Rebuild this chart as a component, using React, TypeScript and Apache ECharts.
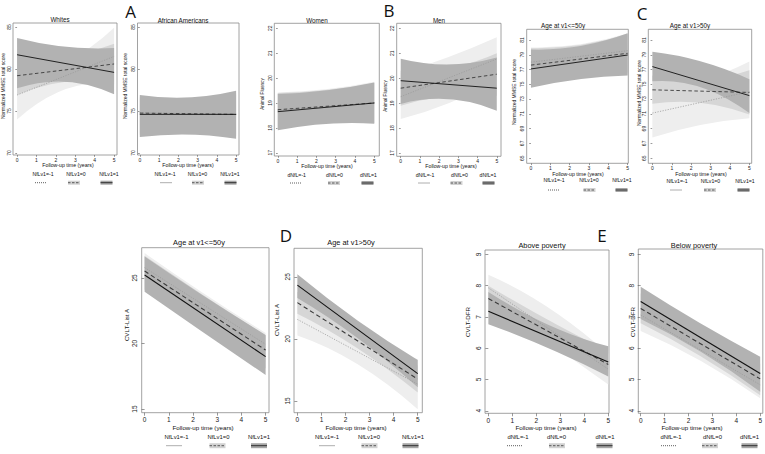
import React, { useEffect, useRef } from "react";
import * as echarts from "echarts";

// ---------- data ----------
const xTicks = [0, 1, 2, 3, 4, 5];
const lineX = [0, 5];
const bandX = [0, 2.5, 5];

const titles = ["Whites", "African Americans", "Women", "Men", "Age at v1<=50y", "Age at v1>50y", "Age at v1<=50y", "Age at v1>50y", "Above poverty", "Below poverty"];
const yTitles = ["Normalized MMSE total score", "Normalized MMSE total score", "Animal Fluency", "Animal Fluency", "Normalized MMSE total score", "Normalized MMSE total score", "CVLT-List A", "CVLT-List A", "CVLT-DFR", "CVLT-DFR"];
const xTitle = "Follow-up time (years)";
const legendNfl = ["NfLv1=-1", "NfLv1=0", "NfLv1=1"];
const legendDnfl = ["dNfL=-1", "dNfL=0", "dNfL=1"];
const panelLetters = ["A", "B", "C", "D", "E"];

const mmseTicks = [70, 75, 80, 85];
const fluencyTicks = [17, 18, 19, 20, 21, 22];
const ageMmseTicks = [65, 67, 69, 71, 73, 75, 77, 79, 81];
const cvltATicks = [15, 20, 25];
const dfrTicks = [4, 5, 6, 7, 8, 9];

// order in each: [NfL=1 (solid), NfL=0 (dashed), NfL=-1 (dotted)]
const whitesLines = [[81.7, 79.6], [79.2, 80.6], [76.9, 81.5]];
const whitesLower = [[77.7, 78.5, 77.0], [76.9, 78.5, 78.2], [74.0, 77.6, 78.1]];
const whitesUpper = [[83.7, 82.65, 82.5], [81.5, 81.5, 83.0], [79.8, 80.9, 84.9]];

const afamLines = [[74.6, 74.6], [74.75, 74.6], [74.8, 74.6]];
const afamLower = [[71.9, 72.2, 71.7], [72.1, 72.4, 72.0], [72.3, 72.6, 72.2]];
const afamUpper = [[76.9, 76.6, 77.4], [76.7, 76.4, 77.1], [76.5, 76.2, 76.9]];

const womenLines = [[18.65, 19.0], [18.73, 19.0], [18.7, 19.0]];
const womenLower = [[17.9, 18.16, 18.17], [17.95, 18.2, 18.2], [17.95, 18.2, 18.2]];
const womenUpper = [[19.36, 19.5, 19.82], [19.4, 19.52, 19.8], [19.42, 19.55, 19.85]];

const menLines = [[19.9, 19.6], [19.6, 20.16], [19.26, 20.77]];
const menLower = [[18.97, 19.16, 18.7], [18.9, 19.3, 19.3], [18.36, 19.0, 19.9]];
const menUpper = [[20.78, 20.55, 20.83], [20.3, 20.4, 21.0], [20.2, 20.85, 21.64]];

const young1Lines = [[77.08, 78.97], [77.6, 79.2], [78.0, 79.55]];
const young1Lower = [[74.55, 75.7, 76.2], [74.9, 75.9, 76.6], [75.2, 76.1, 76.8]];
const young1Upper = [[79.7, 80.15, 81.9], [79.9, 80.3, 81.8], [80.0, 80.4, 81.9]];

const old1Lines = [[77.4, 73.47], [74.25, 73.9], [71.1, 74.0]];
const old1Lower = [[75.4, 74.6, 71.1], [72.35, 72.5, 70.9], [67.8, 69.5, 70.4]];
const old1Upper = [[79.4, 78.1, 75.7], [76.2, 75.6, 76.9], [74.4, 75.5, 78.1]];

const young2Lines = [[25.23, 19.0], [25.53, 19.5], [25.79, 19.94]];
const young2Lower = [[23.95, 20.75, 17.6], [24.1, 21.3, 18.1], [24.2, 21.6, 18.6]];
const young2Upper = [[26.63, 23.55, 20.65], [26.7, 23.6, 20.6], [26.9, 23.75, 20.8]];

const old2Lines = [[24.33, 17.2], [22.92, 16.76], [21.57, 16.35]];
const old2Lower = [[23.3, 20.07, 16.1], [22.03, 19.24, 15.67], [20.27, 17.96, 14.33]];
const old2Upper = [[25.2, 21.47, 18.3], [23.8, 20.44, 17.85], [22.87, 19.96, 18.37]];

const aboveLines = [[7.18, 5.56], [7.59, 5.48], [7.93, 5.33]];
const aboveLower = [[6.77, 6.0, 5.1], [7.2, 6.3, 5.1], [7.5, 6.2, 4.84]];
const aboveUpper = [[7.8, 6.75, 6.06], [8.0, 6.9, 5.9], [8.35, 7.3, 5.82]];

const belowLines = [[7.49, 5.19], [7.27, 5.02], [7.06, 4.83]];
const belowLower = [[6.93, 5.89, 4.61], [6.8, 5.75, 4.5], [6.55, 5.6, 4.4]];
const belowUpper = [[7.96, 6.79, 5.73], [7.75, 6.55, 5.5], [7.55, 6.3, 5.25]];

const panelData = [
  { lines: whitesLines, lower: whitesLower, upper: whitesUpper, ticks: mmseTicks, legend: legendNfl },
  { lines: afamLines, lower: afamLower, upper: afamUpper, ticks: mmseTicks, legend: legendNfl },
  { lines: womenLines, lower: womenLower, upper: womenUpper, ticks: fluencyTicks, legend: legendDnfl },
  { lines: menLines, lower: menLower, upper: menUpper, ticks: fluencyTicks, legend: legendDnfl },
  { lines: young1Lines, lower: young1Lower, upper: young1Upper, ticks: ageMmseTicks, legend: legendNfl },
  { lines: old1Lines, lower: old1Lower, upper: old1Upper, ticks: ageMmseTicks, legend: legendNfl },
  { lines: young2Lines, lower: young2Lower, upper: young2Upper, ticks: cvltATicks, legend: legendNfl },
  { lines: old2Lines, lower: old2Lower, upper: old2Upper, ticks: cvltATicks, legend: legendNfl },
  { lines: aboveLines, lower: aboveLower, upper: aboveUpper, ticks: dfrTicks, legend: legendDnfl },
  { lines: belowLines, lower: belowLower, upper: belowUpper, ticks: dfrTicks, legend: legendDnfl },
];

// ---------- layout ----------
const layout = [
  { box: [13, 23, 117, 155], xr: [-0.21, 5.15], yr: [69.76, 85.48], small: true, title: [60, 19], xt: [68, 165], yt: [3.2, 86], ytf: 5, legY: 174.3, symY: 182.7, legX: [43, 76, 109], symX: [41, 74, 106.5] },
  { box: [137.5, 23, 239, 155], xr: [-0.12, 5.15], yr: [69.76, 85.48], small: true, title: [183, 20], xt: [188, 165], yt: [124.5, 86], ytf: 5, legY: 174, symY: 182.7, legX: [165, 197.5, 230], symX: [166.5, 198, 230.5] },
  { box: [274.3, 23.3, 379.3, 156], xr: [-0.18, 5.26], yr: [16.87, 22.2], small: true, title: [317, 20.7], xt: [327, 166], yt: [262, 94], ytf: 4.6, legY: 175, symY: 183, legX: [296.7, 334.5, 368.5], symX: [296, 334, 367.5] },
  { box: [396.7, 23.3, 501, 156.3], xr: [-0.21, 5.22], yr: [16.87, 22.2], small: true, title: [439, 20.5], xt: [451, 166.3], yt: [385, 96], ytf: 4.6, legY: 175, symY: 183, legX: [425, 459.5, 488], symX: [424.5, 456.5, 488.5] },
  { box: [526.7, 29.3, 628.3, 163.3], xr: [-0.22, 5.03], yr: [64.3, 82.45], small: true, title: [563, 25], xt: [578, 173.5], yt: [514, 92], ytf: 5, legY: 180, symY: 190, legX: [554, 589, 622], symX: [554, 589.5, 621.5] },
  { box: [648.3, 29.3, 751.7, 163.3], xr: [-0.21, 5.12], yr: [64.3, 82.45], small: true, title: [690, 25], xt: [701, 173.5], yt: [638.5, 93], ytf: 5, legY: 181, symY: 190, legX: [677, 710.5, 745], symX: [676.5, 710, 743.5] },
  { box: [141.7, 247.7, 269, 412.7], xr: [-0.12, 5.14], yr: [14.72, 27.31], small: false, title: [199, 242.3], xt: [203, 427], yt: [126, 325], ytf: 6.2, legY: 437.3, symY: 445.7, legX: [176.5, 218.5, 259], symX: [174.5, 217.5, 259] },
  { box: [294, 248.3, 422.3, 412.7], xr: [-0.14, 5.19], yr: [14.05, 27.3], small: false, title: [351, 242.3], xt: [356, 427], yt: [276, 320], ytf: 6.2, legY: 437, symY: 445.7, legX: [327, 369, 413], symX: [327.5, 369.5, 410.5] },
  { box: [485, 250, 609, 413.3], xr: [-0.14, 5.03], yr: [3.92, 9.14], small: false, title: [542, 245], xt: [546, 427.5], yt: [467, 322], ytf: 6.2, legY: 437, symY: 445.7, legX: [518, 556.5, 605], symX: [515, 557, 604.5] },
  { box: [638.3, 249, 763.3, 413.3], xr: [-0.1, 5.11], yr: [3.92, 9.17], small: false, title: [694, 245], xt: [692, 427.5], yt: [632, 322], ytf: 6.2, legY: 437, symY: 445.7, legX: [671, 712.5, 749.5], symX: [669, 710, 749.5] },
];
const letterPos = [[130.5, 11.5], [389, 10.5], [642, 13], [286, 235.5], [602, 235.5]];

const FONT = "'Liberation Sans', Arial, sans-serif";
const bandColors = ["#b2b2b2", "#d6d6d6", "#eeeeee"]; // NfL=1, 0, -1
const lineColors = ["#111111", "#3a3a3a", "#9a9a9a"];

function bandSeries(i: number, lower: number[], upper: number[], color: string) {
  return {
    type: "custom",
    xAxisIndex: i,
    yAxisIndex: i,
    silent: true,
    z: 1,
    clip: true,
    data: [[bandX[0], lower[0]]],
    renderItem: (_params: any, api: any) => {
      const U = bandX.map((x, j) => api.coord([x, upper[j]]));
      const Lw = bandX.map((x, j) => api.coord([x, lower[j]]));
      // quadratic control point so the curve passes through the middle reading
      const ctrl = (a: number[], m: number[], b: number[]) => [2 * m[0] - (a[0] + b[0]) / 2, 2 * m[1] - (a[1] + b[1]) / 2];
      const cu = ctrl(U[0], U[1], U[2]);
      const cl = ctrl(Lw[2], Lw[1], Lw[0]);
      const f = (p: number[]) => p[0].toFixed(2) + " " + p[1].toFixed(2);
      const d = "M" + f(U[0]) + " Q" + f(cu) + " " + f(U[2]) + " L" + f(Lw[2]) + " Q" + f(cl) + " " + f(Lw[0]) + " Z";
      return { type: "path", shape: { pathData: d }, style: { fill: color, stroke: null } };
    },
  };
}

function buildOption() {
  const grid: any[] = [];
  const xAxis: any[] = [];
  const yAxis: any[] = [];
  const series: any[] = [];
  const graphic: any[] = [];

  panelData.forEach((p, i) => {
    const L = layout[i];
    const fs = L.small ? 5 : 6.5;
    const tick = L.small ? 1.8 : 3;
    grid.push({
      left: L.box[0], top: L.box[1], width: L.box[2] - L.box[0], height: L.box[3] - L.box[1],
      show: true, borderColor: "#8a8a8a", borderWidth: 0.8, backgroundColor: "#ffffff",
    });
    xAxis.push({
      type: "value", gridIndex: i, min: L.xr[0], max: L.xr[1],
      axisLine: { show: false }, splitLine: { show: false },
      axisTick: { show: true, length: tick, lineStyle: { color: "#555", width: 0.6 }, customValues: xTicks },
      axisLabel: { customValues: xTicks, fontSize: fs, color: "#222", margin: L.small ? 2 : 3.3, fontFamily: FONT },
    });
    yAxis.push({
      type: "value", gridIndex: i, min: L.yr[0], max: L.yr[1],
      axisLine: { show: false }, splitLine: { show: false },
      axisTick: { show: true, length: tick, lineStyle: { color: "#555", width: 0.6 }, customValues: p.ticks },
      axisLabel: { customValues: p.ticks, fontSize: fs, color: "#222", margin: L.small ? 2 : 3.3, rotate: 90, fontFamily: FONT },
    });
    // bands: light (-1), medium (0), dark (1)
    [2, 1, 0].forEach((k) => {
      series.push(bandSeries(i, p.lower[k], p.upper[k], bandColors[k]));
    });
    // lines: dotted (-1), dashed (0), solid (1)
    [2, 1, 0].forEach((k) => {
      const w = L.small ? 0.9 : 1.1;
      const dash = k === 0 ? "solid" : k === 1 ? (L.small ? [3.5, 2.5] : [4.5, 3]) : [1.2, 1.4];
      series.push({
        type: "line", xAxisIndex: i, yAxisIndex: i, silent: true, symbol: "none", z: 3,
        lineStyle: { color: lineColors[k], width: k === 2 ? 0.8 : w, type: dash },
        data: lineX.map((x, j) => [x, p.lines[k][j]]),
      });
    });

    // texts
    graphic.push({
      type: "text", x: L.title[0], y: L.title[1],
      style: { text: titles[i], fontSize: L.small ? 6.3 : 7.4, fontFamily: FONT, fill: "#111", align: "center", verticalAlign: "middle" },
    });
    graphic.push({
      type: "text", x: L.xt[0], y: L.xt[1],
      style: { text: xTitle, fontSize: L.small ? 5.2 : 6.2, fontFamily: FONT, fill: "#111", align: "center", verticalAlign: "middle" },
    });
    graphic.push({
      type: "text", x: L.yt[0], y: L.yt[1], rotation: Math.PI / 2,
      style: { text: yTitles[i], fontSize: L.ytf, fontFamily: FONT, fill: "#111", align: "center", verticalAlign: "middle" },
    });
    // legend
    const sw = L.small ? 12 : 16;
    const sh = L.small ? 4 : 5;
    p.legend.forEach((lab, j) => {
      graphic.push({
        type: "text", x: L.legX[j], y: L.legY,
        style: { text: lab, fontSize: L.small ? 5.2 : 5.9, fontFamily: FONT, fill: "#111", align: "center", verticalAlign: "middle" },
      });
      const cx = L.symX[j];
      const k = 2 - j;
      if (k !== 2) {
        graphic.push({ type: "rect", shape: { x: cx - sw / 2, y: L.symY - sh / 2, width: sw, height: sh }, style: { fill: k === 1 ? "#d2d2d2" : "#a6a6a6" } });
      }
      graphic.push({
        type: "line", shape: { x1: cx - sw / 2, y1: L.symY, x2: cx + sw / 2, y2: L.symY },
        style: { stroke: k === 2 ? "#333" : lineColors[k], lineWidth: 0.8, lineDash: k === 0 ? null : k === 1 ? [2.5, 1.5] : [1, 1] },
      });
    });
  });

  panelLetters.forEach((t, i) => {
    graphic.push({
      type: "text", x: letterPos[i][0], y: letterPos[i][1],
      style: { text: t, fontSize: 17, fontFamily: "'Open Sans', 'Liberation Sans', sans-serif", fill: "#111", align: "center", verticalAlign: "middle" },
    });
  });

  return { animation: false, backgroundColor: "#ffffff", grid, xAxis, yAxis, series, graphic };
}

export default function App() {
  const ref = useRef<HTMLDivElement>(null);
  useEffect(() => {
    if (!ref.current) return;
    const chart = echarts.init(ref.current, undefined, { renderer: "svg" });
    chart.setOption(buildOption() as any);
    return () => chart.dispose();
  }, []);
  return <div ref={ref} style={{ position: "absolute", left: 0, top: 0, width: 765, height: 454, background: "#fff" }} />;
}
